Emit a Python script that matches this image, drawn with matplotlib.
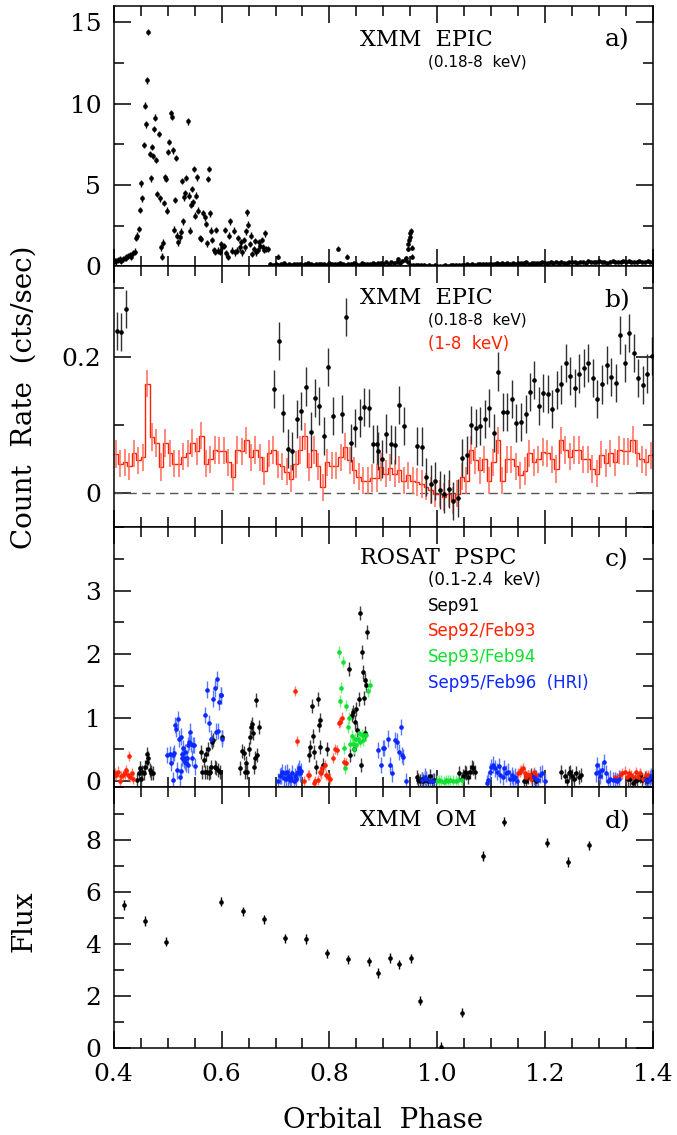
import numpy as np
import matplotlib
matplotlib.use("Agg")
import matplotlib.pyplot as plt
from matplotlib.ticker import MultipleLocator

plt.rcParams["font.family"] = "DejaVu Serif"
plt.rcParams["font.size"] = 18

RED = "#ff2200"
GREEN = "#10e030"
BLUE = "#0a28ff"

# =========================================================
# a) XMM EPIC 0.18-8 keV light curve
# =========================================================
a_flare_phase = [
    0.4018, 0.405, 0.408, 0.411, 0.414, 0.4173, 0.4204, 0.4235, 0.4266, 0.4297,
    0.4328, 0.4358, 0.439, 0.442, 0.4439, 0.447, 0.4488, 0.4513, 0.4532, 0.4556,
    0.4575, 0.4593, 0.4618, 0.4643, 0.4668, 0.4686, 0.4705, 0.473, 0.4748, 0.4767,
    0.4785, 0.4804, 0.4835, 0.4853, 0.4872, 0.489, 0.4915, 0.4934, 0.4958, 0.4977,
    0.4995, 0.5014, 0.5033, 0.5057, 0.5076, 0.5094, 0.5119, 0.5138, 0.5162, 0.5181,
    0.52, 0.5224, 0.5243, 0.5261, 0.528, 0.5305, 0.5323, 0.5348, 0.5373, 0.5391,
    0.541, 0.5428, 0.5447, 0.5472, 0.549, 0.5509, 0.5527, 0.5546, 0.5564, 0.5595,
    0.5626, 0.5657, 0.5688, 0.5707, 0.5725, 0.5744, 0.5768, 0.5787, 0.5812, 0.583,
    0.5855, 0.5886, 0.5905, 0.5935, 0.5966, 0.5997, 0.6016, 0.604, 0.6065, 0.609,
    0.6121, 0.614, 0.6164, 0.6195, 0.6226, 0.6257, 0.6288, 0.6313, 0.6337, 0.6368,
    0.6387, 0.6412, 0.6443, 0.6461, 0.648, 0.6498, 0.6523, 0.6554, 0.6572, 0.6597,
    0.6616, 0.6647, 0.6678, 0.6696, 0.6721, 0.6752, 0.677, 0.6789, 0.6807, 0.6832,
    0.6863,
]
a_flare_rate = [
    0.35, 0.31, 0.39, 0.43, 0.35, 0.45, 0.51, 0.55, 0.64, 0.72,
    0.60, 0.82, 0.92, 1.75, 1.89, 2.30, 3.47, 5.11, 4.19, 7.47,
    9.88, 8.73, 11.44, 14.41, 6.92, 5.42, 7.33, 6.80, 8.46, 9.14,
    6.55, 4.46, 8.15, 4.19, 1.17, 0.60, 1.46, 3.90, 5.48, 5.38,
    3.43, 7.02, 7.64, 9.43, 9.18, 7.13, 2.26, 4.09, 6.67, 1.89,
    1.48, 1.79, 2.14, 5.24, 2.77, 4.25, 4.50, 5.44, 8.91, 4.35,
    2.20, 3.80, 4.76, 3.94, 5.98, 3.12, 4.35, 5.48, 3.43, 1.75,
    1.68, 3.29, 3.02, 2.61, 1.42, 5.36, 6.00, 3.26, 2.20, 1.62,
    1.00, 0.92, 2.24, 0.97, 0.92, 1.38, 1.17, 1.27, 2.24, 0.80,
    0.60, 1.89, 2.77, 0.97, 2.20, 0.86, 0.97, 1.75, 1.17, 1.48,
    0.86, 1.62, 1.17, 2.16, 3.33, 2.57, 1.38, 1.89, 0.76, 1.07,
    1.58, 0.86, 1.00, 1.48, 1.27, 1.62, 1.17, 1.00, 2.03, 1.07,
    1.07,
]
a_base_phase = np.arange(0.69, 1.4001, 0.005)
a_base_rate = [
    0.15, 0.12, 0.18, 0.10, 0.14, 0.20, 0.12, 0.16, 0.11, 0.15,
    0.13, 0.17, 0.12, 0.15, 0.19, 0.14, 0.11, 0.16, 0.13, 0.18,
    0.15, 0.12, 0.20, 0.14, 0.17, 0.13, 0.22, 0.16, 0.12, 0.18,
    0.14, 0.19, 0.15, 0.12, 0.21, 0.16, 0.13, 0.18, 0.24, 0.15,
    0.19, 0.22, 0.16, 0.25, 0.18, 0.27, 0.21, 0.30, 0.24, 0.35,
    0.40, 0.25, 0.10, 0.12, 0.08, 0.10, 0.07, 0.09, 0.06, 0.08,
    0.05, 0.07, 0.04, 0.06, 0.05, 0.08, 0.06, 0.09, 0.07, 0.10,
    0.09, 0.12, 0.10, 0.13, 0.11, 0.14, 0.12, 0.16, 0.13, 0.15,
    0.17, 0.14, 0.18, 0.15, 0.20, 0.16, 0.19, 0.17, 0.22, 0.18,
    0.20, 0.17, 0.23, 0.19, 0.21, 0.25, 0.18, 0.22, 0.20, 0.24,
    0.21, 0.26, 0.19, 0.23, 0.27, 0.22, 0.25, 0.20, 0.28, 0.24,
    0.22, 0.27, 0.25, 0.30, 0.23, 0.28, 0.26, 0.24, 0.31, 0.27,
    0.25, 0.29, 0.33, 0.26, 0.30, 0.24, 0.28, 0.32, 0.27, 0.30,
    0.26, 0.31, 0.28, 0.34, 0.27, 0.30, 0.25, 0.32, 0.29, 0.27,
    0.33, 0.28, 0.30,
]
a_spike_phase = [0.705, 0.815, 0.832, 0.9275, 0.942, 0.9455, 0.9465, 0.9475,
                 0.9485, 0.9495, 0.9505, 0.9525, 0.954]
a_spike_rate = [0.60, 1.10, 0.60, 0.45, 0.50, 1.10, 1.40, 1.60,
                1.80, 2.05, 2.20, 1.15, 0.60]

# =========================================================
# b) XMM EPIC zoom: 0.18-8 keV points and 1-8 keV histogram
# =========================================================
b_soft_phase = [
    0.4062, 0.4142, 0.4222, 0.6974, 0.7067, 0.7148, 0.7234, 0.7315, 0.7401, 0.7481,
    0.7562, 0.7649, 0.7729, 0.7809, 0.7896, 0.7982, 0.8063, 0.823, 0.8316, 0.8397,
    0.8477, 0.8564, 0.865, 0.8731, 0.8811, 0.8885, 0.8904, 0.8966, 0.9046, 0.9133,
    0.9213, 0.9287, 0.938, 0.9628, 0.9708, 0.9795, 0.9881, 0.9962, 1.0048, 1.0129,
    1.0215, 1.0296, 1.0382, 1.0463, 1.0549, 1.063, 1.0716, 1.0797, 1.0883, 1.0963,
    1.105, 1.113, 1.1217, 1.1297, 1.1384, 1.1464, 1.1551, 1.1637, 1.1718, 1.1798,
    1.1885, 1.1965, 1.2052, 1.2132, 1.2219, 1.2299, 1.238, 1.2466, 1.2547, 1.2633,
    1.2714, 1.28, 1.2881, 1.2967, 1.3054, 1.314, 1.3221, 1.3307, 1.3388, 1.3474,
    1.3555, 1.3641, 1.3722, 1.3808, 1.3889, 1.3975,
]
b_soft_rate = [
    0.238, 0.236, 0.270, 0.152, 0.223, 0.117, 0.065, 0.061, 0.108, 0.120,
    0.156, 0.090, 0.139, 0.127, 0.083, 0.185, 0.113, 0.116, 0.258, 0.073,
    0.095, 0.110, 0.126, 0.125, 0.072, 0.071, 0.061, 0.050, 0.087, 0.071,
    0.070, 0.129, 0.098, 0.069, 0.068, 0.023, 0.013, 0.017, 0.004, -0.001,
    0.006, -0.012, -0.007, 0.051, 0.056, 0.100, 0.095, 0.098, 0.108, 0.124,
    0.088, 0.178, 0.119, 0.119, 0.138, 0.102, 0.104, 0.116, 0.148, 0.165,
    0.128, 0.147, 0.145, 0.123, 0.151, 0.159, 0.191, 0.172, 0.154, 0.175,
    0.183, 0.190, 0.168, 0.138, 0.159, 0.187, 0.170, 0.161, 0.231, 0.190,
    0.235, 0.205, 0.168, 0.158, 0.175, 0.201,
]
b_hard_rate = [
    0.057, 0.043, 0.045, 0.039, 0.058, 0.048, 0.052, 0.160, 0.082, 0.073,
    0.038, 0.073, 0.058, 0.043, 0.043, 0.053, 0.058, 0.073, 0.061, 0.084,
    0.043, 0.049, 0.063, 0.062, 0.062, 0.045, 0.023, 0.063, 0.061, 0.077,
    0.052, 0.063, 0.052, 0.032, 0.058, 0.063, 0.042, 0.039, 0.031, 0.021,
    0.042, 0.063, 0.083, 0.038, 0.063, 0.039, 0.008, 0.045, 0.040, 0.040,
    0.052, 0.068, 0.048, 0.033, 0.024, 0.018, 0.018, 0.022, 0.022, 0.038,
    0.028, 0.037, 0.028, 0.034, 0.018, 0.026, 0.018, 0.016, 0.013, 0.009,
    0.004, -0.001, -0.001, -0.006, -0.001, -0.011, -0.001, 0.024, 0.018, 0.063,
    0.048, 0.033, 0.049, 0.018, 0.045, 0.077, 0.018, 0.049, 0.049, 0.039,
    0.026, 0.032, 0.058, 0.045, 0.049, 0.060, 0.058, 0.049, 0.035, 0.077,
    0.063, 0.053, 0.063, 0.063, 0.049, 0.049, 0.035, 0.028, 0.056, 0.044,
    0.058, 0.045, 0.063, 0.061, 0.061, 0.078, 0.058, 0.049, 0.045, 0.055,
]
b_hard_edges = np.linspace(0.4, 1.4, len(b_hard_rate) + 1)

# =========================================================
# c) ROSAT PSPC / HRI light curves
# =========================================================
c_black_phase = [
    0.443, 0.446, 0.448, 0.451, 0.453, 0.456, 0.458, 0.461, 0.462, 0.464, 0.467, 0.469, 0.470, 0.473,
    0.5625, 0.564, 0.567, 0.569, 0.5705, 0.573, 0.575, 0.577, 0.579, 0.581, 0.583, 0.585, 0.587,
    0.590, 0.593, 0.5965, 0.601,
    0.6335, 0.637, 0.641, 0.6435, 0.646, 0.648, 0.651, 0.653, 0.655, 0.657, 0.658, 0.660, 0.662,
    0.664, 0.666, 0.669,
    0.762, 0.7646, 0.767, 0.7695, 0.772, 0.7757, 0.778, 0.780, 0.782, 0.783, 0.789, 0.796,
    0.8363, 0.8388, 0.8413, 0.8437, 0.8456, 0.8474, 0.850, 0.8518, 0.8542, 0.8567, 0.8585, 0.8604,
    0.8622, 0.864, 0.8653, 0.867, 0.869, 0.8660,
    0.9615, 0.9646, 0.9677, 0.9708, 0.974, 0.977, 0.980, 0.983, 0.986, 0.9893, 0.9936,
    1.0406, 1.045, 1.048, 1.051, 1.054, 1.0573, 1.0604, 1.0635, 1.0665, 1.0696,
    1.1605, 1.164, 1.1685, 1.173, 1.1765, 1.181, 1.184,
    1.2303, 1.2365, 1.2408, 1.2445, 1.247, 1.2507, 1.2532, 1.2581, 1.263, 1.2674,
    1.354, 1.3583, 1.3632, 1.3663, 1.3706, 1.3755, 1.3805, 1.3848, 1.389, 1.394,
]
c_black_rate = [
    0.02, 0.12, 0.20, 0.04, 0.15, 0.12, 0.22, 0.30, 0.43, 0.36, 0.17, 0.12, 0.14, 0.12,
    0.46, 0.14, 0.33, 0.15, 0.43, 0.15, 0.51, 0.12, 0.14, 0.22, 0.62, 0.64, 0.22,
    0.20, 0.17, 0.15, 0.69,
    0.20, 0.48, 0.45, 0.15, 0.29, 0.14, 0.51, 0.70, 0.85, 0.90, 0.76, 0.22, 0.36,
    1.27, 0.41, 0.85,
    0.41, 0.54, 1.18, 0.71, 0.46, 0.22, 1.29, 0.88, 0.96, 0.53, 0.25, 0.50,
    1.77, 0.41, 1.04, 1.09, 0.51, 0.93, 1.14, 0.80, 1.30, 2.64, 0.26, 2.03,
    1.72, 1.31, 1.59, 1.51, 2.34, 0.75,
    0.07, 0.02, 0.00, 0.04, 0.00, 0.05, 0.02, 0.00, 0.08, 0.00, 0.02,
    0.12, 0.04, 0.08, 0.15, 0.12, 0.07, 0.15, 0.22, 0.20, 0.15,
    0.00, 0.00, 0.07, 0.09, 0.03, 0.04, 0.00,
    0.14, 0.08, 0.00, 0.12, 0.15, 0.08, 0.04, 0.12, 0.07, 0.10,
    0.04, 0.03, -0.03, 0.00, 0.02, 0.08, 0.02, 0.05, 0.00, 0.04,
]
c_red_phase = [
    0.402, 0.405, 0.408, 0.411, 0.414, 0.417, 0.420, 0.423, 0.427, 0.428, 0.431, 0.433, 0.436,
    0.7355, 0.740, 0.752, 0.760, 0.763, 0.771, 0.774, 0.779, 0.782, 0.785, 0.787, 0.791, 0.794,
    0.7975, 0.8005, 0.807, 0.8103, 0.814, 0.8177, 0.820, 0.823, 0.827, 0.8313,
    1.150, 1.153, 1.156, 1.1593, 1.163, 1.1654, 1.1685, 1.1716, 1.1747, 1.179, 1.184,
    1.3292, 1.3335, 1.3385, 1.3434, 1.3477, 1.3521, 1.3558, 1.3601, 1.3632, 1.3682, 1.3725,
    1.3768, 1.3817, 1.3867, 1.391,
]
c_red_rate = [
    0.12, 0.09, 0.15, 0.00, 0.08, 0.10, 0.12, 0.17, 0.09, 0.40, 0.07, 0.12, 0.04,
    1.42, 0.63, 0.00, 0.09, 0.10, -0.03, 0.00, 0.02, 0.15, 0.12, 0.20, 0.25, 0.10,
    0.07, 0.04, 0.36, 0.50, 0.49, 0.92, 0.93, 1.00, 0.30, 0.28,
    0.12, 0.15, 0.17, 0.20, 0.12, 0.07, 0.09, 0.10, 0.04, 0.14, 0.10,
    0.07, 0.04, 0.09, 0.12, 0.15, 0.07, 0.12, 0.10, 0.07, 0.14, 0.07,
    0.12, 0.04, 0.09, 0.10,
]
c_green_phase = [
    0.817, 0.820, 0.822, 0.825, 0.827, 0.8295, 0.831, 0.834, 0.8357, 0.8388, 0.8413, 0.8437,
    0.846, 0.848, 0.850, 0.8523, 0.855, 0.857, 0.8597, 0.862, 0.865, 0.868, 0.872, 0.876,
    0.9986, 1.0035, 1.0078, 1.012, 1.016, 1.020, 1.0245, 1.0295, 1.0344, 1.0393, 1.045,
]
c_green_rate = [
    2.03, 1.26, 1.47, 1.88, 0.52, 0.20, 1.19, 0.85, 0.99, 0.59, 0.71, 0.59,
    0.51, 0.67, 0.57, 0.67, 0.75, 0.62, 0.73, 0.65, 0.72, 0.72, 1.42, 1.52,
    0.00, 0.01, 0.00, -0.01, 0.01, 0.00, 0.01, 0.00, 0.00, 0.01, 0.02,
]
c_blue_phase = [
    0.4995, 0.504, 0.506, 0.509, 0.510, 0.512, 0.514, 0.516, 0.518, 0.520, 0.521, 0.522,
    0.524, 0.525, 0.527, 0.5285, 0.530, 0.532, 0.533, 0.536, 0.538, 0.540, 0.541, 0.543,
    0.545, 0.547, 0.549, 0.550, 0.526, 0.531, 0.534, 0.537,
    0.569, 0.573, 0.577, 0.581, 0.585, 0.587, 0.589, 0.5915, 0.5935, 0.595, 0.598, 0.5995, 0.601,
    0.7046, 0.708, 0.711, 0.7127, 0.715, 0.717, 0.719, 0.7213, 0.723, 0.725, 0.7275, 0.7295,
    0.731, 0.734, 0.7355, 0.7375, 0.740, 0.742, 0.7436, 0.745, 0.7466,
    0.891, 0.896, 0.899, 0.902, 0.908, 0.913, 0.9166, 0.9215, 0.926, 0.929,
    0.932, 0.9343, 0.937, 0.9417,
    0.9708, 0.977, 0.980, 0.986, 0.992,
    1.0913, 1.0944, 1.0975, 1.1005, 1.1036, 1.1067, 1.111, 1.1147, 1.117, 1.121, 1.1234, 1.127,
    1.1314, 1.1345, 1.138, 1.1407, 1.1438, 1.147,
    1.179, 1.1827, 1.187, 1.1914, 1.195, 1.1994,
    1.294, 1.2964, 1.300, 1.3026, 1.3063, 1.3088, 1.3125, 1.3162, 1.320, 1.325, 1.3292, 1.3335, 1.3372,
    1.3867, 1.391, 1.394, 1.397,
]
c_blue_rate = [
    0.41, 0.42, 0.29, 0.02, 0.41, 0.44, 0.88, 0.82, 0.17, 0.97, 0.67, 0.06,
    0.16, 0.70, 0.42, 0.52, 0.36, 0.46, 0.30, 0.36, 0.57, 0.62, 0.78, 0.59,
    0.36, 0.57, 0.57, 0.23, 0.36, 0.33, 0.28, 0.25,
    1.04, 1.44, 0.91, 0.67, 1.30, 1.46, 0.78, 1.60, 0.79, 1.25, 1.35, 1.35, 0.67,
    0.00, 0.08, 0.09, 0.14, 0.05, 0.12, 0.04, 0.14, 0.06, 0.08, 0.02, 0.05,
    0.12, 0.00, 0.08, 0.04, 0.12, 0.15, 0.20, 0.12, 0.16,
    0.49, 0.25, 0.52, 0.52, 0.67, 0.25, 0.12, 0.65, 0.62, 0.46,
    0.85, 0.41, 0.38, 0.00,
    0.02, 0.07, 0.03, 0.00, 0.00,
    -0.03, 0.02, 0.15, 0.22, 0.26, 0.20, 0.15, 0.24, 0.10, 0.07, 0.20, 0.12,
    0.15, 0.04, 0.09, 0.04, 0.07, 0.00,
    0.07, 0.04, 0.02, 0.10, 0.12, 0.00,
    0.12, 0.25, 0.15, 0.08, 0.17, 0.30, 0.12, 0.00, 0.04, 0.02, 0.02, 0.00, 0.04,
    0.02, 0.00, 0.05, 0.08,
]

# =========================================================
# d) XMM OM fluxes
# =========================================================
d_phase = [0.4195, 0.4586, 0.4972, 0.5994, 0.6388, 0.678, 0.7173, 0.7566, 0.7961,
           0.8345, 0.8737, 0.8909, 0.913, 0.9286, 0.9516, 0.9678, 1.007, 1.0464,
           1.085, 1.1243, 1.2028, 1.242, 1.2813]
d_flux = [5.49, 4.87, 4.08, 5.62, 5.24, 4.94, 4.21, 4.18, 3.63,
          3.40, 3.32, 2.88, 3.45, 3.21, 3.44, 1.81, 0.04, 1.35,
          7.37, 8.69, 7.88, 7.14, 7.78]

# =========================================================
# FIGURE
# =========================================================
fig = plt.figure(figsize=(6.77, 11.35), dpi=100)
gs = fig.add_gridspec(4, 1, left=0.168, right=0.9645, top=0.9947,
                      bottom=0.0767, hspace=0)
axes = [fig.add_subplot(gs[i]) for i in range(4)]
ax_a, ax_b, ax_c, ax_d = axes

pt = dict(fmt="o", ms=2.3, capsize=0, elinewidth=1.0)

# a)
ax_a.errorbar(a_flare_phase, a_flare_rate, yerr=0.2, color="k", **pt)
ax_a.errorbar(a_base_phase, a_base_rate, yerr=0.06, color="k", **pt)
ax_a.errorbar(a_spike_phase, a_spike_rate, yerr=0.15, color="k", **pt)
ax_a.set_ylim(0, 16)
ax_a.set_yticks([0, 5, 10, 15])
ax_a.yaxis.set_minor_locator(MultipleLocator(2.5))

# b)
ax_b.axhline(0, color="#555555", lw=1.0, dashes=(6, 4))
b_centers = 0.5 * (b_hard_edges[1:] + b_hard_edges[:-1])
ax_b.errorbar(b_centers, b_hard_rate, yerr=0.02, fmt="none",
              ecolor="#ff6a5a", elinewidth=1.3, alpha=0.85)
ax_b.stairs(b_hard_rate, b_hard_edges, color=RED, lw=1.0, baseline=None)
ax_b.errorbar(b_soft_phase, b_soft_rate, yerr=0.028, color="k",
              ecolor="#303030", **pt)
ax_b.set_ylim(-0.05, 0.332)
ax_b.set_yticks([0, 0.2])
ax_b.set_yticklabels(["0", "0.2"])
ax_b.yaxis.set_minor_locator(MultipleLocator(0.1))

# c)
ax_c.errorbar(c_black_phase, c_black_rate, yerr=0.11, color="k",
              ecolor="#404040", **pt)
ax_c.errorbar(c_red_phase, c_red_rate, yerr=0.08, color=RED,
              ecolor="#ff7a6a", **pt)
ax_c.errorbar(c_green_phase, c_green_rate, yerr=0.09, color=GREEN,
              ecolor="#70f080", **pt)
ax_c.errorbar(c_blue_phase, c_blue_rate, yerr=0.13, color=BLUE,
              ecolor="#5a78ff", **pt)
ax_c.set_ylim(-0.1, 4.0)
ax_c.set_yticks([0, 1, 2, 3])
ax_c.yaxis.set_minor_locator(MultipleLocator(0.5))

# d)
ax_d.errorbar(d_phase, d_flux, yerr=0.18, color="k", **pt)
ax_d.set_ylim(0, 10)
ax_d.set_yticks([0, 2, 4, 6, 8])
ax_d.yaxis.set_minor_locator(MultipleLocator(1))

for ax in axes:
    ax.set_xlim(0.4, 1.4)
    ax.xaxis.set_major_locator(MultipleLocator(0.2))
    ax.xaxis.set_minor_locator(MultipleLocator(0.05))
    ax.tick_params(which="both", direction="in", top=True, right=True,
                   width=1.1, labelsize=18)
    ax.tick_params(which="major", length=12, pad=9)
    ax.tick_params(which="minor", length=7)
    for s in ax.spines.values():
        s.set_linewidth(1.1)
    if ax is not ax_d:
        ax.tick_params(labelbottom=False)
ax_d.tick_params(axis="x", pad=11)
ax_d.xaxis.set_major_formatter(plt.FormatStrFormatter("%.1f"))

# panel annotations
title_kw = dict(fontsize=16, va="center", ha="left")
tag_kw = dict(fontsize=18, va="center", ha="left")
sub_kw = dict(family="DejaVu Sans", fontsize=11, va="center", ha="left")
leg_kw = dict(family="DejaVu Sans", fontsize=12, va="center", ha="left")

ax_a.text(0.456, 0.871, "XMM  EPIC", transform=ax_a.transAxes, **title_kw)
ax_a.text(0.583, 0.785, "(0.18-8  keV)", transform=ax_a.transAxes, **sub_kw)
ax_a.text(0.91, 0.869, "a)", transform=ax_a.transAxes, **tag_kw)

ax_b.text(0.456, 0.878, "XMM  EPIC", transform=ax_b.transAxes, **title_kw)
ax_b.text(0.583, 0.795, "(0.18-8  keV)", transform=ax_b.transAxes, **sub_kw)
ax_b.text(0.583, 0.703, "(1-8  keV)", transform=ax_b.transAxes, color=RED,
          **leg_kw)
ax_b.text(0.91, 0.868, "b)", transform=ax_b.transAxes, **tag_kw)

ax_c.text(0.456, 0.879, "ROSAT  PSPC", transform=ax_c.transAxes, **title_kw)
ax_c.text(0.583, 0.797, "(0.1-2.4  keV)", transform=ax_c.transAxes, **leg_kw)
ax_c.text(0.583, 0.697, "Sep91", transform=ax_c.transAxes, color="k", **leg_kw)
ax_c.text(0.583, 0.600, "Sep92/Feb93", transform=ax_c.transAxes, color=RED,
          **leg_kw)
ax_c.text(0.583, 0.502, "Sep93/Feb94", transform=ax_c.transAxes, color=GREEN,
          **leg_kw)
ax_c.text(0.583, 0.400, "Sep95/Feb96  (HRI)", transform=ax_c.transAxes,
          color=BLUE, **leg_kw)
ax_c.text(0.91, 0.874, "c)", transform=ax_c.transAxes, **tag_kw)

ax_d.text(0.456, 0.875, "XMM  OM", transform=ax_d.transAxes, **title_kw)
ax_d.text(0.91, 0.869, "d)", transform=ax_d.transAxes, **tag_kw)

# axis labels
fig.text(0.036, 0.650, "Count  Rate  (cts/sec)", rotation=90, ha="center",
         va="center", fontsize=20)
fig.text(0.036, 0.1885, "Flux", rotation=90, ha="center", va="center",
         fontsize=20)
fig.text(0.5665, 0.0125, "Orbital  Phase", ha="center", va="center",
         fontsize=20)

fig.savefig("out.png", dpi=100)
plt.close(fig)
